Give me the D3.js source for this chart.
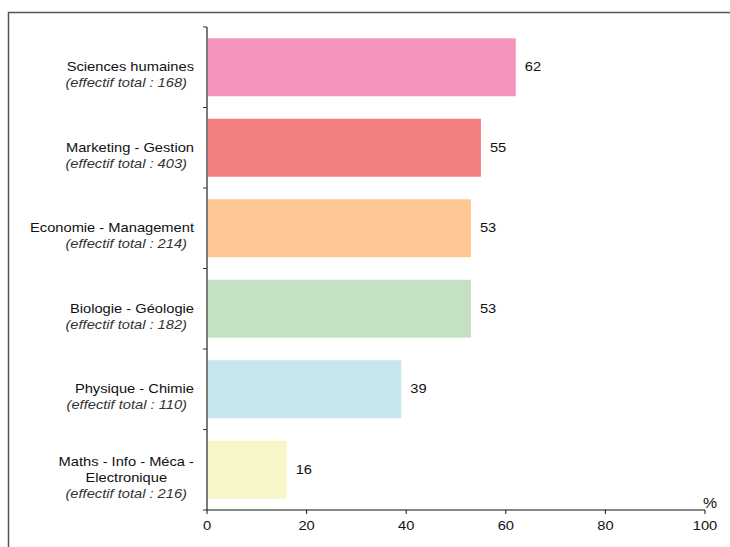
<!DOCTYPE html>
<html><head><meta charset="utf-8">
<script src="https://cdn.jsdelivr.net/npm/d3@7"></script>
<style>body{margin:0;background:#fff}svg{display:block}text{font-family:"Liberation Sans",Arial,sans-serif;fill:#111}</style>
</head><body><svg id="c" width="730" height="547"></svg>
<script>
const categories = ["Sciences humaines","Marketing - Gestion","Economie - Management","Biologie - Géologie","Physique - Chimie","Maths - Info - Méca - Electronique"];
const labelLines = [["Sciences humaines"],["Marketing - Gestion"],["Economie - Management"],["Biologie - Géologie"],["Physique - Chimie"],["Maths - Info - Méca -","Electronique"]];
const effectifs = [168,403,214,182,110,216];
const values = [62,55,53,53,39,16];
const colors = ["#F495BF","#F47F7F","#FEC692","#C4E2C3","#C4E6EC","#F8F6C8"];
const xTicks = [0,20,40,60,80,100];

const svg = d3.select("#c");
const SX = 1.13, FS = 13;
const m = {left:207, right:25, top:27, bottom:37};
const W = 730, H = 547;
const x = d3.scaleLinear().domain([0,100]).range([m.left, W - m.right]);
const y = d3.scaleBand().domain(categories).range([m.top, H - m.bottom]).paddingInner(0.28).paddingOuter(0.14);

// frame
svg.append("rect").attr("x",8.5).attr("y",12.5).attr("width",760).attr("height",600)
  .attr("fill","none").attr("stroke","#555").attr("stroke-width",1.5);

function txt(g, s, tx, ty, anchor, italic){
  return g.append("text").attr("transform",`translate(${tx},${ty}) scale(${SX},1)`)
    .attr("text-anchor",anchor).attr("font-size",FS).attr("font-style",italic?"italic":"normal")
    .style("fill", italic ? "#333" : "#111").text(s);
}

// bars
svg.selectAll("rect.bar").data(categories).join("rect").attr("class","bar")
  .attr("x", x(0)).attr("y", d => y(d)).attr("width", (d,i) => x(values[i]) - x(0))
  .attr("height", y.bandwidth()).attr("fill", (d,i) => colors[i]);

// value labels
categories.forEach((c,i) => {
  txt(svg, String(values[i]), x(values[i]) + 9, y(c) + y.bandwidth()/2 + 4, "start", false);
});

// y axis
const step = y.step();
const y0 = m.top, y1 = H - m.bottom;
svg.append("line").attr("x1",x(0)).attr("x2",x(0)).attr("y1",y0).attr("y2",y1)
  .attr("stroke","#7a7a7a").attr("stroke-width",2);
d3.range(categories.length+1).forEach(k => {
  const yy = y0 + k*step;
  svg.append("line").attr("x1",x(0)-4).attr("x2",x(0)).attr("y1",yy).attr("y2",yy)
    .attr("stroke","#333").attr("stroke-width",1);
});

// category labels
categories.forEach((c,i) => {
  const lines = labelLines[i];
  const n = lines.length + 1;
  const cy = y(c) + y.bandwidth()/2;
  const first = cy + 4 - (n-2)*8;
  const rightX = x(0) - 13;
  const t0 = txt(svg, lines[0], rightX, first, "end", false);
  const w0 = t0.node().getComputedTextLength()*SX;
  for (let k=1;k<lines.length;k++){
    txt(svg, lines[k], rightX - w0/2, first + 16*k, "middle", false);
  }
  txt(svg, "(effectif total : " + effectifs[i] + ")", rightX - 7, first + 16*lines.length, "end", true);
});

// x axis
const xa = svg.append("g").attr("transform",`translate(0,${y1})`);
xa.append("line").attr("x1",x(0)).attr("x2",x(100)).attr("y1",0).attr("y2",0).attr("stroke","#111").attr("stroke-width",1.2);
xTicks.forEach(t => {
  xa.append("line").attr("x1",x(t)).attr("x2",x(t)).attr("y1",0).attr("y2",4).attr("stroke","#111");
  txt(xa, String(t), x(t), 20, "middle", false);
});
txt(svg, "%", x(100) + 5, y1 - 2, "middle", false).attr("font-size", 14);
</script></body></html>
